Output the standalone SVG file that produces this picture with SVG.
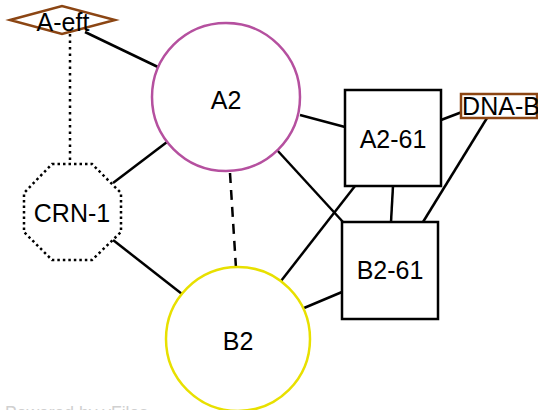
<svg xmlns="http://www.w3.org/2000/svg" width="538" height="410" viewBox="0 0 538 410">
<style>
.e{stroke:#000;stroke-width:2.5;fill:none}
.t{font-family:"Liberation Sans",Arial,sans-serif;font-size:25px;fill:#000;text-anchor:middle;dominant-baseline:central}
.box{fill:#fff;stroke:#000;stroke-width:2.5}
</style>
<rect width="538" height="410" fill="#fff"/>
<g id="edges">
<line class="e" x1="85" y1="32" x2="160" y2="68"/>
<line class="e" x1="70" y1="34" x2="70" y2="162" stroke-dasharray="2.5,4"/>
<line class="e" x1="167" y1="142" x2="113" y2="183"/>
<line class="e" x1="230" y1="173" x2="236" y2="268" stroke-dasharray="10,7"/>
<line class="e" x1="300" y1="115" x2="345" y2="127"/>
<line class="e" x1="277" y1="150" x2="343" y2="222"/>
<line class="e" x1="441" y1="120" x2="462" y2="112"/>
<line class="e" x1="393" y1="186" x2="391" y2="222"/>
<line class="e" x1="487" y1="118" x2="423" y2="222"/>
<line class="e" x1="355" y1="186" x2="281" y2="281"/>
<line class="e" x1="342" y1="292" x2="304" y2="308"/>
<line class="e" x1="113" y1="240" x2="182" y2="294"/>
</g>
<g id="A-eft">
<polygon points="10,20 62,6 115,20 62,34" fill="none" stroke="#8b4513" stroke-width="2.5"/>
<text class="t" x="63" y="22">A-eft</text>
</g>
<g id="A2">
<circle cx="226" cy="97" r="74" fill="#fff" stroke="#b5509f" stroke-width="2.5"/>
<text class="t" x="226" y="100">A2</text>
</g>
<g id="A2-61">
<rect class="box" x="345" y="90" width="96" height="96"/>
<text class="t" x="393" y="139">A2-61</text>
</g>
<g id="DNA-B">
<rect x="461" y="94" width="76" height="24" fill="#fff" stroke="#8b4513" stroke-width="2.5"/>
<text class="t" x="501" y="106">DNA-B</text>
</g>
<g id="CRN-1">
<polygon points="52,164 92,164 121,193 121,232 92,260 52,260 24,232 24,193" fill="#fff" stroke="#000" stroke-width="2.5" stroke-dasharray="2.5,3"/>
<text class="t" x="72" y="213">CRN-1</text>
</g>
<g id="B2">
<circle cx="238" cy="339" r="72" fill="#fff" stroke="#e8e000" stroke-width="2.5"/>
<text class="t" x="238" y="341">B2</text>
</g>
<g id="B2-61">
<rect class="box" x="342" y="222" width="96" height="97"/>
<text class="t" x="390" y="270">B2-61</text>
</g>
<text x="5" y="419" font-family="'Liberation Sans',Arial,sans-serif" font-size="17.5" fill="#d0d0d0">Powered by yFiles</text>
</svg>
